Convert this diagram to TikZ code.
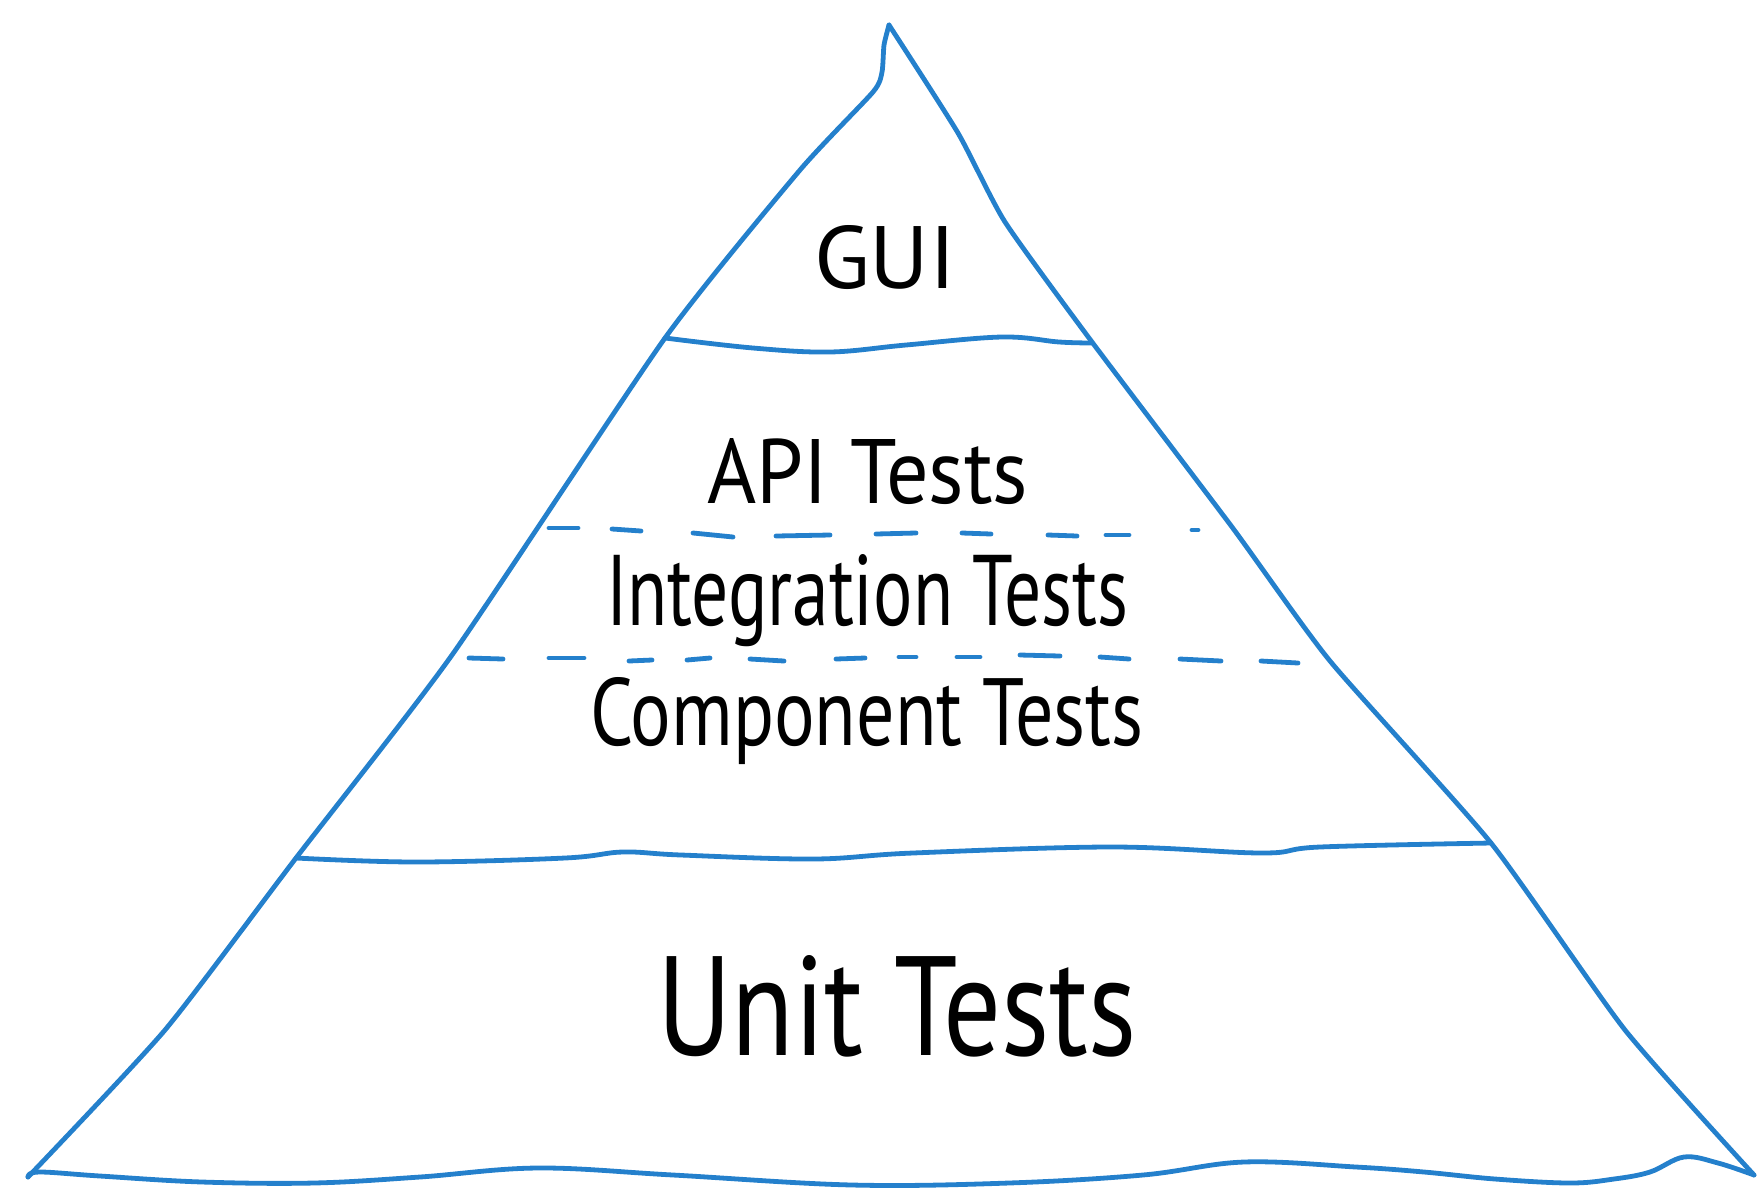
\documentclass[tikz,border=0pt]{standalone}
\usepackage{fontspec}
\setmainfont{PT Sans}
\usepackage{graphicx}
\definecolor{pblue}{RGB}{36,128,204}
\tikzset{
  edge/.style={draw=pblue, line width=4.8pt, line cap=round, line join=round},
  dashseg/.style={draw=pblue, line width=4.8pt, line cap=round},
  lbl/.style={inner sep=0pt, outer sep=0pt, anchor=base west, text=black}
}
\begin{document}
\begin{tikzpicture}[x=1pt,y=-1pt]
\useasboundingbox (0,0) rectangle (1758,1187);
% outline: left side (bottom-left corner up to apex, with notch)
\draw[edge] plot[smooth, tension=0.35] coordinates {(28,1177) (165,1030) (296,858) (452,655) (665,338) (800,170) (873,92) (882,72) (884,45) (889,25)};
% right side
\draw[edge] plot[smooth, tension=0.35] coordinates {(889,25) (958,133) (1005,222) (1092,342) (1232,527) (1330,661) (1491,843) (1625,1030) (1754,1175)};
% bottom
\draw[edge] plot[smooth, tension=0.6] coordinates {(1754,1175) (1718,1163) (1684,1157) (1650,1172) (1614,1179) (1570,1183) (1495,1179) (1424,1172) (1356,1167) (1244,1162) (1143,1175) (1009,1183) (852,1185) (673,1175) (538,1168) (420,1177) (314,1183) (202,1182) (100,1176) (39,1172) (28,1177)};
% GUI separator
\draw[edge] plot[smooth, tension=0.6] coordinates {(665,338) (753,348) (830,352) (906,345) (1002,337) (1059,342) (1092,343)};
% unit separator
\draw[edge] plot[smooth, tension=0.6] coordinates {(296,858) (416,862) (565,858) (623,852) (681,855) (814,859) (913,853) (1112,847) (1262,853) (1320,847) (1491,843)};
% dashed separator 1
\foreach \a/\b/\c/\d in {549/528/578/528, 612/529/641/531, 693/533/733/537, 776/536/830/535, 876/534/916/533, 962/533/991/534, 1048/535/1077/536, 1106/535/1129/535, 1192/530/1198/530}
  \draw[dashseg] (\a,\b) -- (\c,\d);
% dashed separator 2
\foreach \a/\b/\c/\d in {469/658/503/659, 549/658/584/658, 629/661/652/660, 687/660/710/658, 750/659/784/661, 836/659/865/658, 899/657/916/657, 957/657/980/657, 1020/655/1060/656, 1100/657/1129/659, 1180/659/1221/661, 1261/661/1298/663}
  \draw[dashseg] (\a,\b) -- (\c,\d);
% labels
\node[lbl] (gui) at (814,288) {\resizebox{142pt}{63pt}{GUI}};
\node[lbl] (api) at (707,503) {\resizebox{321pt}{65pt}{API Tests}};
\node[lbl] (integ) at (606,625) {\resizebox{522pt}{71pt}{Integration Tests}};
\node[lbl] (comp) at (590,745) {\resizebox{553pt}{68pt}{Component Tests}};
\node[lbl] (unit) at (657,1055) {\resizebox{479pt}{100pt}{Unit Tests}};
\end{tikzpicture}
\end{document}
